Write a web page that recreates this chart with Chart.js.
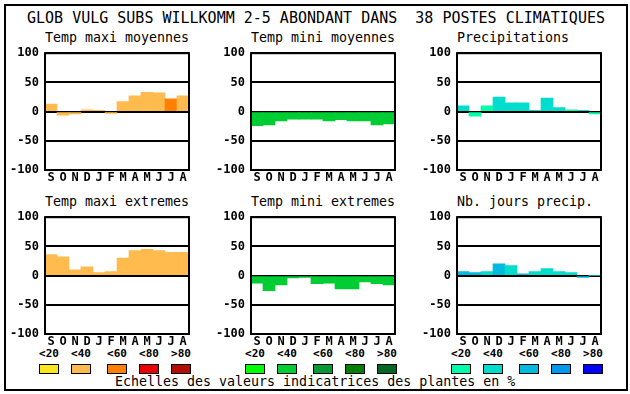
<!DOCTYPE html>
<html>
<head>
<meta charset="utf-8">
<script src="https://cdn.jsdelivr.net/npm/chart.js@4/dist/chart.umd.min.js"></script>
<style>
  body { margin: 0; background: #fff; width: 630px; height: 394px; overflow: hidden; }
  .abs { position: absolute; }
  .txt { position: absolute; font-family: 'DejaVu Sans Mono', monospace; color: #000; white-space: pre; }
  .title { font-size: 15px; line-height: 16px; }
  .ptitle { font-size: 13.3px; line-height: 14px; }
  .lab { font-size: 11px; font-weight: bold; line-height: 12px; width: 20px; text-align: center; }
  .box { position: absolute; width: 18px; height: 8px; border: 1px solid #000; }
  canvas { position: absolute; }
</style>
</head>
<body>
<div class="abs" style="left:4px;top:4px;width:620px;height:383px;border:2px solid #000"></div>
<div class="txt title" style="left:27px;top:10px">GLOB VULG SUBS WILLKOMM 2-5 ABONDANT DANS  38 POSTES CLIMATIQUES</div>
<div class="txt ptitle" style="left:45px;top:31px">Temp maxi moyennes</div>
<div class="txt ptitle" style="left:251px;top:31px">Temp mini moyennes</div>
<div class="txt ptitle" style="left:457px;top:31px">Precipitations</div>
<div class="txt ptitle" style="left:45px;top:195px">Temp maxi extremes</div>
<div class="txt ptitle" style="left:251px;top:195px">Temp mini extremes</div>
<div class="txt ptitle" style="left:457px;top:195px">Nb. jours precip.</div>
<div class="txt ptitle" style="left:115px;top:375px">Echelles des valeurs indicatrices des plantes en %</div>
<div id="legend"></div>

<script>
// months, Sept -> Aug
const months = ['S','O','N','D','J','F','M','A','M','J','J','A'];

// values (-100..100)
const tmaxMoy = [13, -6, -4, 3, 2, -3, 17, 27, 33, 32, 22, 27];
const tminMoy = [-24, -23, -16, -13, -13, -13, -16, -14, -16, -16, -23, -21];
const precip = [10, -8, 10, 25, 15, 15, 2, 23, 7, 3, 2, -4];
const tmaxExt = [36, 32, 10, 15, 5, 7, 30, 43, 45, 43, 40, 40];
const tminExt = [-13, -26, -16, -4, -3, -14, -13, -23, -23, -11, -14, -16];
const nbJours = [7, 5, 7, 20, 17, 3, 7, 12, 7, 5, -3, 0];

// abundance class of each bar (index into the colour scale)
const tmaxMoyCls = [1, 1, 1, 1, 1, 1, 1, 1, 1, 1, 2, 1];
const tminMoyCls = [1, 1, 1, 1, 1, 1, 1, 1, 1, 1, 1, 1];
const precipCls = [1, 0, 0, 1, 1, 1, 1, 1, 1, 0, 1, 0];
const tmaxExtCls = [1, 1, 1, 1, 1, 1, 1, 1, 1, 1, 1, 1];
const tminExtCls = [1, 1, 1, 1, 1, 1, 1, 1, 1, 1, 1, 1];
const nbJoursCls = [2, 2, 1, 2, 1, 2, 1, 1, 1, 1, 2, 1];

// colour scales and their labels
const scaleLabels = ['<20', '<40', '<60', '<80', '>80'];
const orangeScale = ['#FAE61E', '#FFBB4D', '#FF8000', '#E80000', '#B01000'];
const greenScale = ['#00FF00', '#00CC33', '#009933', '#008000', '#006622'];
const blueScale = ['#00FFAA', '#00DDCC', '#00BBDD', '#0099EE', '#0000FF'];

const FONT = 'DejaVu Sans Mono';

// black frame round the plot area, drawn after the bars
const framePlugin = {
  id: 'frame',
  afterDraw(chart) {
    const a = chart.chartArea;
    const ctx = chart.ctx;
    ctx.save();
    ctx.strokeStyle = '#000';
    ctx.lineWidth = 2;
    ctx.strokeRect(a.left, a.top, a.right - a.left, a.bottom - a.top);
    ctx.restore();
  }
};

function makePanel(left, top, values, cls, colours) {
  const canvas = document.createElement('canvas');
  canvas.width = 193;
  canvas.height = 148;
  canvas.style.left = (left - 45) + 'px';
  canvas.style.top = (top - 10) + 'px';
  document.body.appendChild(canvas);

  new Chart(canvas, {
    type: 'bar',
    data: {
      labels: months,
      datasets: [{
        data: values,
        backgroundColor: values.map((v, i) => colours[cls[i]]),
        borderWidth: 0,
        barPercentage: 1,
        categoryPercentage: 1
      }]
    },
    options: {
      responsive: false,
      animation: false,
      devicePixelRatio: 1,
      layout: { padding: { left: 0, right: 4, top: 10, bottom: 0 } },
      plugins: { legend: { display: false }, tooltip: { enabled: false } },
      scales: {
        x: {
          grid: { display: false, drawTicks: false },
          border: { display: false },
          ticks: {
            color: '#000', padding: 1, maxRotation: 0, autoSkip: false,
            font: { family: FONT, size: 12, weight: 'bold' }
          },
          afterFit: axis => { axis.height = 18; }
        },
        y: {
          min: -100,
          max: 100,
          z: 1,
          grid: { color: '#000', lineWidth: 2, drawTicks: false },
          border: { display: false },
          ticks: {
            stepSize: 50, color: '#000', padding: 6,
            font: { family: FONT, size: 12, weight: 'bold' }
          },
          afterFit: axis => { axis.width = 45; }
        }
      }
    },
    plugins: [framePlugin]
  });
}

makePanel(45, 50, tmaxMoy, tmaxMoyCls, orangeScale);
makePanel(251, 50, tminMoy, tminMoyCls, greenScale);
makePanel(457, 50, precip, precipCls, blueScale);
makePanel(45, 214, tmaxExt, tmaxExtCls, orangeScale);
makePanel(251, 214, tminExt, tminExtCls, greenScale);
makePanel(457, 214, nbJours, nbJoursCls, blueScale);

// colour scale keys under each column
const legend = document.getElementById('legend');
const keyOffsets = [0, 32, 68, 100, 132];
[[39, orangeScale], [245, greenScale], [451, blueScale]].forEach(([x0, colours]) => {
  colours.forEach((c, i) => {
    const lab = document.createElement('div');
    lab.className = 'txt lab';
    lab.style.left = (x0 + keyOffsets[i]) + 'px';
    lab.style.top = '348px';
    lab.textContent = scaleLabels[i];
    legend.appendChild(lab);

    const box = document.createElement('div');
    box.className = 'box';
    box.style.left = (x0 + keyOffsets[i]) + 'px';
    box.style.top = '364px';
    box.style.background = c;
    legend.appendChild(box);
  });
});
</script>
</body>
</html>
